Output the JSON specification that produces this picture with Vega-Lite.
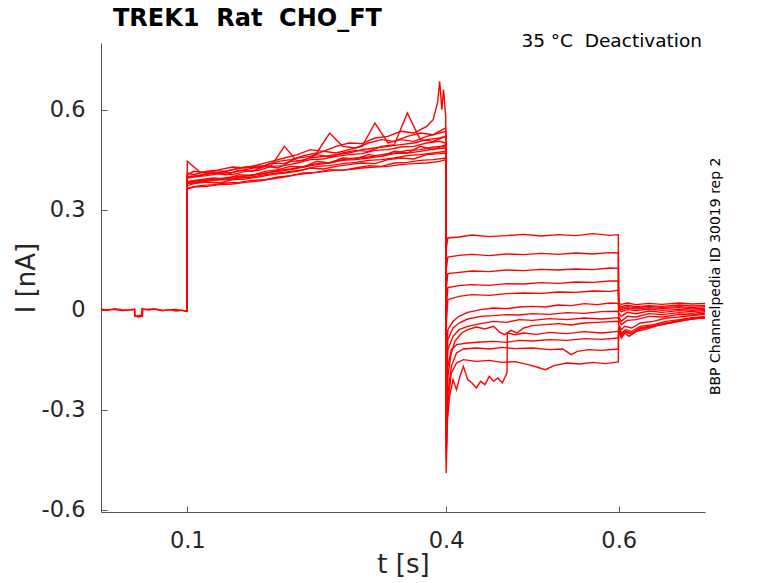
{
  "$schema": "https://vega.github.io/schema/vega-lite/v6.json",
  "width": 604,
  "height": 469,
  "autosize": {"type": "none"},
  "padding": {"left": 101, "top": 43, "right": 73, "bottom": 71},
  "background": "white",
  "config": {"view": {"stroke": null}, "font": "DejaVu Sans"},
  "layer": [
    {
      "data": {
        "values": [
          {"sweep":1,"t":0,"I":0.002},{"sweep":1,"t":0.008,"I":-0.002},{"sweep":1,"t":0.016,"I":0.003},{"sweep":1,"t":0.024,"I":0.0},{"sweep":1,"t":0.032,"I":-0.001},{"sweep":1,"t":0.039,"I":0.002},{"sweep":1,"t":0.0392,"I":-0.018},{"sweep":1,"t":0.043,"I":-0.022},{"sweep":1,"t":0.047,"I":-0.02},{"sweep":1,"t":0.0475,"I":0.003},{"sweep":1,"t":0.055,"I":-0.001},{"sweep":1,"t":0.063,"I":0.002},{"sweep":1,"t":0.071,"I":-0.003},{"sweep":1,"t":0.079,"I":0.0},{"sweep":1,"t":0.087,"I":-0.004},{"sweep":1,"t":0.094,"I":-0.002},{"sweep":1,"t":0.0995,"I":-0.006},
          {"sweep":1,"t":0.1,"I":0.445},{"sweep":1,"t":0.115,"I":0.412},{"sweep":1,"t":0.13,"I":0.418},{"sweep":1,"t":0.145,"I":0.415},{"sweep":1,"t":0.16,"I":0.425},{"sweep":1,"t":0.175,"I":0.43},{"sweep":1,"t":0.19,"I":0.432},{"sweep":1,"t":0.205,"I":0.445},{"sweep":1,"t":0.22,"I":0.45},{"sweep":1,"t":0.235,"I":0.462},{"sweep":1,"t":0.25,"I":0.47},{"sweep":1,"t":0.265,"I":0.53},{"sweep":1,"t":0.28,"I":0.49},{"sweep":1,"t":0.295,"I":0.485},{"sweep":1,"t":0.31,"I":0.5},{"sweep":1,"t":0.325,"I":0.51},{"sweep":1,"t":0.34,"I":0.505},{"sweep":1,"t":0.355,"I":0.52},{"sweep":1,"t":0.37,"I":0.53},{"sweep":1,"t":0.385,"I":0.525},{"sweep":1,"t":0.3995,"I":0.545},
          {"sweep":1,"t":0.4,"I":0.18},{"sweep":1,"t":0.402,"I":0.215},{"sweep":1,"t":0.415,"I":0.218},{"sweep":1,"t":0.43,"I":0.224},{"sweep":1,"t":0.45,"I":0.219},{"sweep":1,"t":0.47,"I":0.222},{"sweep":1,"t":0.49,"I":0.226},{"sweep":1,"t":0.51,"I":0.221},{"sweep":1,"t":0.53,"I":0.225},{"sweep":1,"t":0.55,"I":0.222},{"sweep":1,"t":0.57,"I":0.228},{"sweep":1,"t":0.59,"I":0.223},{"sweep":1,"t":0.5995,"I":0.225},
          {"sweep":1,"t":0.6,"I":0.02},{"sweep":1,"t":0.603,"I":0.016},{"sweep":1,"t":0.61,"I":0.02},{"sweep":1,"t":0.62,"I":0.015},{"sweep":1,"t":0.635,"I":0.019},{"sweep":1,"t":0.65,"I":0.016},{"sweep":1,"t":0.67,"I":0.02},{"sweep":1,"t":0.685,"I":0.017},{"sweep":1,"t":0.7,"I":0.019},

          {"sweep":2,"t":0,"I":-0.002},{"sweep":2,"t":0.012,"I":0.001},{"sweep":2,"t":0.025,"I":-0.003},{"sweep":2,"t":0.039,"I":0.0},{"sweep":2,"t":0.0395,"I":-0.02},{"sweep":2,"t":0.045,"I":-0.017},{"sweep":2,"t":0.048,"I":-0.021},{"sweep":2,"t":0.0485,"I":0.0},{"sweep":2,"t":0.06,"I":0.002},{"sweep":2,"t":0.072,"I":-0.002},{"sweep":2,"t":0.085,"I":0.001},{"sweep":2,"t":0.0995,"I":-0.004},
          {"sweep":2,"t":0.1,"I":0.362},{"sweep":2,"t":0.1075,"I":0.368},{"sweep":2,"t":0.1225,"I":0.37},{"sweep":2,"t":0.1375,"I":0.375},{"sweep":2,"t":0.1525,"I":0.377},{"sweep":2,"t":0.1675,"I":0.382},{"sweep":2,"t":0.1825,"I":0.386},{"sweep":2,"t":0.1975,"I":0.392},{"sweep":2,"t":0.2125,"I":0.398},{"sweep":2,"t":0.2275,"I":0.405},{"sweep":2,"t":0.2425,"I":0.41},{"sweep":2,"t":0.2575,"I":0.414},{"sweep":2,"t":0.2725,"I":0.418},{"sweep":2,"t":0.2875,"I":0.42},{"sweep":2,"t":0.3025,"I":0.425},{"sweep":2,"t":0.3175,"I":0.428},{"sweep":2,"t":0.3325,"I":0.43},{"sweep":2,"t":0.3475,"I":0.435},{"sweep":2,"t":0.3625,"I":0.438},{"sweep":2,"t":0.3775,"I":0.44},{"sweep":2,"t":0.3925,"I":0.445},{"sweep":2,"t":0.3995,"I":0.45},
          {"sweep":2,"t":0.4,"I":0.12},{"sweep":2,"t":0.402,"I":0.158},{"sweep":2,"t":0.415,"I":0.163},{"sweep":2,"t":0.43,"I":0.166},{"sweep":2,"t":0.45,"I":0.162},{"sweep":2,"t":0.47,"I":0.167},{"sweep":2,"t":0.49,"I":0.165},{"sweep":2,"t":0.51,"I":0.169},{"sweep":2,"t":0.53,"I":0.166},{"sweep":2,"t":0.55,"I":0.17},{"sweep":2,"t":0.57,"I":0.167},{"sweep":2,"t":0.59,"I":0.171},{"sweep":2,"t":0.5995,"I":0.17},
          {"sweep":2,"t":0.6,"I":0.014},{"sweep":2,"t":0.603,"I":0.01},{"sweep":2,"t":0.61,"I":0.013},{"sweep":2,"t":0.62,"I":0.009},{"sweep":2,"t":0.635,"I":0.012},{"sweep":2,"t":0.65,"I":0.01},{"sweep":2,"t":0.67,"I":0.014},{"sweep":2,"t":0.685,"I":0.011},{"sweep":2,"t":0.7,"I":0.013},

          {"sweep":3,"t":0.0995,"I":-0.003},
          {"sweep":3,"t":0.1,"I":0.4},{"sweep":3,"t":0.115,"I":0.402},{"sweep":3,"t":0.13,"I":0.41},{"sweep":3,"t":0.145,"I":0.405},{"sweep":3,"t":0.16,"I":0.418},{"sweep":3,"t":0.175,"I":0.415},{"sweep":3,"t":0.19,"I":0.43},{"sweep":3,"t":0.205,"I":0.425},{"sweep":3,"t":0.22,"I":0.445},{"sweep":3,"t":0.235,"I":0.448},{"sweep":3,"t":0.25,"I":0.465},{"sweep":3,"t":0.265,"I":0.458},{"sweep":3,"t":0.28,"I":0.47},{"sweep":3,"t":0.295,"I":0.478},{"sweep":3,"t":0.31,"I":0.475},{"sweep":3,"t":0.325,"I":0.49},{"sweep":3,"t":0.34,"I":0.495},{"sweep":3,"t":0.355,"I":0.59},{"sweep":3,"t":0.37,"I":0.51},{"sweep":3,"t":0.385,"I":0.505},{"sweep":3,"t":0.3995,"I":0.52},
          {"sweep":3,"t":0.4,"I":0.06},{"sweep":3,"t":0.402,"I":0.108},{"sweep":3,"t":0.415,"I":0.112},{"sweep":3,"t":0.43,"I":0.116},{"sweep":3,"t":0.45,"I":0.114},{"sweep":3,"t":0.47,"I":0.119},{"sweep":3,"t":0.49,"I":0.117},{"sweep":3,"t":0.51,"I":0.121},{"sweep":3,"t":0.53,"I":0.119},{"sweep":3,"t":0.55,"I":0.122},{"sweep":3,"t":0.57,"I":0.12},{"sweep":3,"t":0.59,"I":0.125},{"sweep":3,"t":0.5995,"I":0.124},
          {"sweep":3,"t":0.6,"I":0.01},{"sweep":3,"t":0.603,"I":0.005},{"sweep":3,"t":0.61,"I":0.009},{"sweep":3,"t":0.62,"I":0.006},{"sweep":3,"t":0.635,"I":0.01},{"sweep":3,"t":0.65,"I":0.007},{"sweep":3,"t":0.67,"I":0.009},{"sweep":3,"t":0.685,"I":0.006},{"sweep":3,"t":0.7,"I":0.009},

          {"sweep":4,"t":0.0995,"I":-0.005},
          {"sweep":4,"t":0.1,"I":0.372},{"sweep":4,"t":0.1075,"I":0.378},{"sweep":4,"t":0.1225,"I":0.383},{"sweep":4,"t":0.1375,"I":0.38},{"sweep":4,"t":0.1525,"I":0.39},{"sweep":4,"t":0.1675,"I":0.392},{"sweep":4,"t":0.1825,"I":0.398},{"sweep":4,"t":0.1975,"I":0.405},{"sweep":4,"t":0.2125,"I":0.41},{"sweep":4,"t":0.2275,"I":0.415},{"sweep":4,"t":0.2425,"I":0.425},{"sweep":4,"t":0.2575,"I":0.422},{"sweep":4,"t":0.2725,"I":0.43},{"sweep":4,"t":0.2875,"I":0.435},{"sweep":4,"t":0.3025,"I":0.44},{"sweep":4,"t":0.3175,"I":0.438},{"sweep":4,"t":0.3325,"I":0.45},{"sweep":4,"t":0.3475,"I":0.455},{"sweep":4,"t":0.3625,"I":0.452},{"sweep":4,"t":0.3775,"I":0.465},{"sweep":4,"t":0.3925,"I":0.468},{"sweep":4,"t":0.3995,"I":0.47},
          {"sweep":4,"t":0.4,"I":0.0},{"sweep":4,"t":0.402,"I":0.066},{"sweep":4,"t":0.415,"I":0.072},{"sweep":4,"t":0.43,"I":0.075},{"sweep":4,"t":0.45,"I":0.073},{"sweep":4,"t":0.47,"I":0.078},{"sweep":4,"t":0.49,"I":0.077},{"sweep":4,"t":0.51,"I":0.081},{"sweep":4,"t":0.53,"I":0.079},{"sweep":4,"t":0.55,"I":0.083},{"sweep":4,"t":0.57,"I":0.082},{"sweep":4,"t":0.59,"I":0.086},{"sweep":4,"t":0.5995,"I":0.086},
          {"sweep":4,"t":0.6,"I":0.006},{"sweep":4,"t":0.603,"I":0.0},{"sweep":4,"t":0.61,"I":0.005},{"sweep":4,"t":0.62,"I":0.002},{"sweep":4,"t":0.635,"I":0.006},{"sweep":4,"t":0.65,"I":0.003},{"sweep":4,"t":0.67,"I":0.006},{"sweep":4,"t":0.685,"I":0.002},{"sweep":4,"t":0.7,"I":0.005},

          {"sweep":5,"t":0.0995,"I":-0.004},
          {"sweep":5,"t":0.1,"I":0.385},{"sweep":5,"t":0.115,"I":0.39},{"sweep":5,"t":0.13,"I":0.395},{"sweep":5,"t":0.145,"I":0.392},{"sweep":5,"t":0.16,"I":0.405},{"sweep":5,"t":0.175,"I":0.402},{"sweep":5,"t":0.19,"I":0.415},{"sweep":5,"t":0.205,"I":0.42},{"sweep":5,"t":0.22,"I":0.43},{"sweep":5,"t":0.235,"I":0.428},{"sweep":5,"t":0.25,"I":0.445},{"sweep":5,"t":0.265,"I":0.44},{"sweep":5,"t":0.28,"I":0.455},{"sweep":5,"t":0.295,"I":0.452},{"sweep":5,"t":0.31,"I":0.465},{"sweep":5,"t":0.325,"I":0.46},{"sweep":5,"t":0.34,"I":0.475},{"sweep":5,"t":0.355,"I":0.47},{"sweep":5,"t":0.37,"I":0.49},{"sweep":5,"t":0.385,"I":0.48},{"sweep":5,"t":0.3995,"I":0.495},
          {"sweep":5,"t":0.4,"I":-0.05},{"sweep":5,"t":0.402,"I":0.03},{"sweep":5,"t":0.415,"I":0.04},{"sweep":5,"t":0.43,"I":0.045},{"sweep":5,"t":0.45,"I":0.043},{"sweep":5,"t":0.47,"I":0.048},{"sweep":5,"t":0.49,"I":0.05},{"sweep":5,"t":0.51,"I":0.049},{"sweep":5,"t":0.53,"I":0.053},{"sweep":5,"t":0.55,"I":0.052},{"sweep":5,"t":0.57,"I":0.056},{"sweep":5,"t":0.59,"I":0.055},{"sweep":5,"t":0.5995,"I":0.058},
          {"sweep":5,"t":0.6,"I":0.002},{"sweep":5,"t":0.603,"I":-0.006},{"sweep":5,"t":0.61,"I":0.0},{"sweep":5,"t":0.62,"I":-0.003},{"sweep":5,"t":0.635,"I":0.002},{"sweep":5,"t":0.65,"I":-0.002},{"sweep":5,"t":0.67,"I":0.001},{"sweep":5,"t":0.685,"I":-0.002},{"sweep":5,"t":0.7,"I":0.001},

          {"sweep":6,"t":0.0995,"I":-0.002},
          {"sweep":6,"t":0.1,"I":0.41},{"sweep":6,"t":0.1075,"I":0.405},{"sweep":6,"t":0.1225,"I":0.415},{"sweep":6,"t":0.1375,"I":0.412},{"sweep":6,"t":0.1525,"I":0.42},{"sweep":6,"t":0.1675,"I":0.428},{"sweep":6,"t":0.1825,"I":0.425},{"sweep":6,"t":0.1975,"I":0.44},{"sweep":6,"t":0.2125,"I":0.438},{"sweep":6,"t":0.2275,"I":0.455},{"sweep":6,"t":0.2425,"I":0.46},{"sweep":6,"t":0.2575,"I":0.475},{"sweep":6,"t":0.2725,"I":0.47},{"sweep":6,"t":0.2875,"I":0.48},{"sweep":6,"t":0.3025,"I":0.49},{"sweep":6,"t":0.3175,"I":0.56},{"sweep":6,"t":0.3325,"I":0.5},{"sweep":6,"t":0.3475,"I":0.51},{"sweep":6,"t":0.3625,"I":0.505},{"sweep":6,"t":0.3775,"I":0.52},{"sweep":6,"t":0.3925,"I":0.53},{"sweep":6,"t":0.3995,"I":0.535},
          {"sweep":6,"t":0.4,"I":-0.15},{"sweep":6,"t":0.402,"I":-0.06},{"sweep":6,"t":0.408,"I":-0.035},{"sweep":6,"t":0.415,"I":-0.02},{"sweep":6,"t":0.425,"I":-0.008},{"sweep":6,"t":0.44,"I":0.0},{"sweep":6,"t":0.455,"I":0.005},{"sweep":6,"t":0.47,"I":0.003},{"sweep":6,"t":0.485,"I":0.008},{"sweep":6,"t":0.5,"I":0.01},{"sweep":6,"t":0.515,"I":0.008},{"sweep":6,"t":0.53,"I":0.014},{"sweep":6,"t":0.545,"I":0.012},{"sweep":6,"t":0.56,"I":0.018},{"sweep":6,"t":0.575,"I":0.015},{"sweep":6,"t":0.59,"I":0.02},{"sweep":6,"t":0.5995,"I":0.019},
          {"sweep":6,"t":0.6,"I":-0.01},{"sweep":6,"t":0.603,"I":-0.02},{"sweep":6,"t":0.61,"I":-0.008},{"sweep":6,"t":0.62,"I":-0.012},{"sweep":6,"t":0.635,"I":-0.004},{"sweep":6,"t":0.65,"I":-0.008},{"sweep":6,"t":0.67,"I":-0.003},{"sweep":6,"t":0.685,"I":-0.006},{"sweep":6,"t":0.7,"I":-0.002},

          {"sweep":7,"t":0.0995,"I":-0.005},
          {"sweep":7,"t":0.1,"I":0.365},{"sweep":7,"t":0.115,"I":0.372},{"sweep":7,"t":0.13,"I":0.375},{"sweep":7,"t":0.145,"I":0.38},{"sweep":7,"t":0.16,"I":0.382},{"sweep":7,"t":0.175,"I":0.388},{"sweep":7,"t":0.19,"I":0.39},{"sweep":7,"t":0.205,"I":0.398},{"sweep":7,"t":0.22,"I":0.402},{"sweep":7,"t":0.235,"I":0.41},{"sweep":7,"t":0.25,"I":0.412},{"sweep":7,"t":0.265,"I":0.42},{"sweep":7,"t":0.28,"I":0.418},{"sweep":7,"t":0.295,"I":0.425},{"sweep":7,"t":0.31,"I":0.432},{"sweep":7,"t":0.325,"I":0.43},{"sweep":7,"t":0.34,"I":0.44},{"sweep":7,"t":0.355,"I":0.442},{"sweep":7,"t":0.37,"I":0.448},{"sweep":7,"t":0.385,"I":0.45},{"sweep":7,"t":0.3995,"I":0.455},
          {"sweep":7,"t":0.4,"I":-0.22},{"sweep":7,"t":0.402,"I":-0.09},{"sweep":7,"t":0.408,"I":-0.055},{"sweep":7,"t":0.415,"I":-0.04},{"sweep":7,"t":0.425,"I":-0.028},{"sweep":7,"t":0.44,"I":-0.02},{"sweep":7,"t":0.455,"I":-0.018},{"sweep":7,"t":0.47,"I":-0.015},{"sweep":7,"t":0.485,"I":-0.016},{"sweep":7,"t":0.5,"I":-0.012},{"sweep":7,"t":0.52,"I":-0.014},{"sweep":7,"t":0.54,"I":-0.009},{"sweep":7,"t":0.56,"I":-0.011},{"sweep":7,"t":0.58,"I":-0.006},{"sweep":7,"t":0.5995,"I":-0.005},
          {"sweep":7,"t":0.6,"I":-0.02},{"sweep":7,"t":0.603,"I":-0.035},{"sweep":7,"t":0.61,"I":-0.02},{"sweep":7,"t":0.62,"I":-0.022},{"sweep":7,"t":0.635,"I":-0.012},{"sweep":7,"t":0.65,"I":-0.015},{"sweep":7,"t":0.67,"I":-0.009},{"sweep":7,"t":0.685,"I":-0.011},{"sweep":7,"t":0.7,"I":-0.006},

          {"sweep":8,"t":0.0995,"I":-0.003},
          {"sweep":8,"t":0.1,"I":0.395},{"sweep":8,"t":0.1075,"I":0.398},{"sweep":8,"t":0.1225,"I":0.402},{"sweep":8,"t":0.1375,"I":0.408},{"sweep":8,"t":0.1525,"I":0.405},{"sweep":8,"t":0.1675,"I":0.415},{"sweep":8,"t":0.1825,"I":0.418},{"sweep":8,"t":0.1975,"I":0.43},{"sweep":8,"t":0.2125,"I":0.432},{"sweep":8,"t":0.2275,"I":0.44},{"sweep":8,"t":0.2425,"I":0.45},{"sweep":8,"t":0.2575,"I":0.452},{"sweep":8,"t":0.2725,"I":0.46},{"sweep":8,"t":0.2875,"I":0.465},{"sweep":8,"t":0.3025,"I":0.468},{"sweep":8,"t":0.3175,"I":0.478},{"sweep":8,"t":0.3325,"I":0.48},{"sweep":8,"t":0.3475,"I":0.488},{"sweep":8,"t":0.3625,"I":0.49},{"sweep":8,"t":0.3775,"I":0.5},{"sweep":8,"t":0.3925,"I":0.505},{"sweep":8,"t":0.3995,"I":0.5},
          {"sweep":8,"t":0.4,"I":-0.3},{"sweep":8,"t":0.402,"I":-0.12},{"sweep":8,"t":0.408,"I":-0.08},{"sweep":8,"t":0.415,"I":-0.06},{"sweep":8,"t":0.425,"I":-0.05},{"sweep":8,"t":0.44,"I":-0.042},{"sweep":8,"t":0.455,"I":-0.035},{"sweep":8,"t":0.47,"I":-0.038},{"sweep":8,"t":0.485,"I":-0.03},{"sweep":8,"t":0.5,"I":-0.032},{"sweep":8,"t":0.52,"I":-0.027},{"sweep":8,"t":0.54,"I":-0.03},{"sweep":8,"t":0.56,"I":-0.025},{"sweep":8,"t":0.58,"I":-0.028},{"sweep":8,"t":0.5995,"I":-0.024},
          {"sweep":8,"t":0.6,"I":-0.03},{"sweep":8,"t":0.603,"I":-0.045},{"sweep":8,"t":0.61,"I":-0.032},{"sweep":8,"t":0.62,"I":-0.03},{"sweep":8,"t":0.635,"I":-0.02},{"sweep":8,"t":0.65,"I":-0.022},{"sweep":8,"t":0.67,"I":-0.014},{"sweep":8,"t":0.685,"I":-0.016},{"sweep":8,"t":0.7,"I":-0.01},

          {"sweep":9,"t":0.0995,"I":-0.006},
          {"sweep":9,"t":0.1,"I":0.378},{"sweep":9,"t":0.115,"I":0.382},{"sweep":9,"t":0.13,"I":0.388},{"sweep":9,"t":0.145,"I":0.39},{"sweep":9,"t":0.16,"I":0.395},{"sweep":9,"t":0.175,"I":0.398},{"sweep":9,"t":0.19,"I":0.405},{"sweep":9,"t":0.205,"I":0.41},{"sweep":9,"t":0.22,"I":0.415},{"sweep":9,"t":0.235,"I":0.42},{"sweep":9,"t":0.25,"I":0.43},{"sweep":9,"t":0.265,"I":0.432},{"sweep":9,"t":0.28,"I":0.438},{"sweep":9,"t":0.295,"I":0.442},{"sweep":9,"t":0.31,"I":0.448},{"sweep":9,"t":0.325,"I":0.45},{"sweep":9,"t":0.34,"I":0.455},{"sweep":9,"t":0.355,"I":0.462},{"sweep":9,"t":0.37,"I":0.465},{"sweep":9,"t":0.385,"I":0.47},{"sweep":9,"t":0.3995,"I":0.475},
          {"sweep":9,"t":0.4,"I":-0.38},{"sweep":9,"t":0.402,"I":-0.2},{"sweep":9,"t":0.406,"I":-0.13},{"sweep":9,"t":0.41,"I":-0.095},{"sweep":9,"t":0.418,"I":-0.07},{"sweep":9,"t":0.425,"I":-0.06},{"sweep":9,"t":0.435,"I":-0.052},{"sweep":9,"t":0.445,"I":-0.058},{"sweep":9,"t":0.455,"I":-0.05},{"sweep":9,"t":0.462,"I":-0.068},{"sweep":9,"t":0.468,"I":-0.075},{"sweep":9,"t":0.475,"I":-0.062},{"sweep":9,"t":0.482,"I":-0.07},{"sweep":9,"t":0.49,"I":-0.055},{"sweep":9,"t":0.5,"I":-0.048},{"sweep":9,"t":0.515,"I":-0.045},{"sweep":9,"t":0.53,"I":-0.042},{"sweep":9,"t":0.545,"I":-0.046},{"sweep":9,"t":0.56,"I":-0.04},{"sweep":9,"t":0.575,"I":-0.038},{"sweep":9,"t":0.59,"I":-0.036},{"sweep":9,"t":0.5995,"I":-0.035},
          {"sweep":9,"t":0.6,"I":-0.045},{"sweep":9,"t":0.603,"I":-0.06},{"sweep":9,"t":0.607,"I":-0.05},{"sweep":9,"t":0.615,"I":-0.055},{"sweep":9,"t":0.625,"I":-0.04},{"sweep":9,"t":0.64,"I":-0.035},{"sweep":9,"t":0.655,"I":-0.025},{"sweep":9,"t":0.67,"I":-0.022},{"sweep":9,"t":0.685,"I":-0.018},{"sweep":9,"t":0.7,"I":-0.014},

          {"sweep":10,"t":0.0995,"I":-0.004},
          {"sweep":10,"t":0.1,"I":0.405},{"sweep":10,"t":0.1075,"I":0.415},{"sweep":10,"t":0.1225,"I":0.41},{"sweep":10,"t":0.1375,"I":0.42},{"sweep":10,"t":0.1525,"I":0.428},{"sweep":10,"t":0.1675,"I":0.425},{"sweep":10,"t":0.1825,"I":0.435},{"sweep":10,"t":0.1975,"I":0.445},{"sweep":10,"t":0.2125,"I":0.455},{"sweep":10,"t":0.2275,"I":0.465},{"sweep":10,"t":0.2425,"I":0.48},{"sweep":10,"t":0.2575,"I":0.475},{"sweep":10,"t":0.2725,"I":0.49},{"sweep":10,"t":0.2875,"I":0.5},{"sweep":10,"t":0.3025,"I":0.498},{"sweep":10,"t":0.3175,"I":0.515},{"sweep":10,"t":0.3325,"I":0.52},{"sweep":10,"t":0.3475,"I":0.535},{"sweep":10,"t":0.3625,"I":0.53},{"sweep":10,"t":0.3775,"I":0.55},{"sweep":10,"t":0.385,"I":0.57},{"sweep":10,"t":0.39,"I":0.62},{"sweep":10,"t":0.3925,"I":0.685},{"sweep":10,"t":0.395,"I":0.6},{"sweep":10,"t":0.397,"I":0.66},{"sweep":10,"t":0.3995,"I":0.58},
          {"sweep":10,"t":0.4,"I":-0.33},{"sweep":10,"t":0.402,"I":-0.17},{"sweep":10,"t":0.406,"I":-0.12},{"sweep":10,"t":0.412,"I":-0.105},{"sweep":10,"t":0.425,"I":-0.1},{"sweep":10,"t":0.44,"I":-0.097},{"sweep":10,"t":0.455,"I":-0.095},{"sweep":10,"t":0.47,"I":-0.098},{"sweep":10,"t":0.485,"I":-0.092},{"sweep":10,"t":0.5,"I":-0.094},{"sweep":10,"t":0.52,"I":-0.09},{"sweep":10,"t":0.54,"I":-0.092},{"sweep":10,"t":0.56,"I":-0.087},{"sweep":10,"t":0.58,"I":-0.089},{"sweep":10,"t":0.5995,"I":-0.085},
          {"sweep":10,"t":0.6,"I":-0.05},{"sweep":10,"t":0.603,"I":-0.07},{"sweep":10,"t":0.608,"I":-0.06},{"sweep":10,"t":0.615,"I":-0.065},{"sweep":10,"t":0.625,"I":-0.05},{"sweep":10,"t":0.64,"I":-0.045},{"sweep":10,"t":0.655,"I":-0.035},{"sweep":10,"t":0.67,"I":-0.03},{"sweep":10,"t":0.685,"I":-0.024},{"sweep":10,"t":0.7,"I":-0.02},

          {"sweep":11,"t":0.0995,"I":-0.005},
          {"sweep":11,"t":0.1,"I":0.38},{"sweep":11,"t":0.115,"I":0.385},{"sweep":11,"t":0.13,"I":0.392},{"sweep":11,"t":0.145,"I":0.39},{"sweep":11,"t":0.16,"I":0.398},{"sweep":11,"t":0.175,"I":0.403},{"sweep":11,"t":0.19,"I":0.41},{"sweep":11,"t":0.205,"I":0.415},{"sweep":11,"t":0.22,"I":0.42},{"sweep":11,"t":0.235,"I":0.428},{"sweep":11,"t":0.25,"I":0.435},{"sweep":11,"t":0.265,"I":0.44},{"sweep":11,"t":0.28,"I":0.448},{"sweep":11,"t":0.295,"I":0.45},{"sweep":11,"t":0.31,"I":0.455},{"sweep":11,"t":0.325,"I":0.46},{"sweep":11,"t":0.34,"I":0.468},{"sweep":11,"t":0.355,"I":0.47},{"sweep":11,"t":0.37,"I":0.475},{"sweep":11,"t":0.385,"I":0.482},{"sweep":11,"t":0.3995,"I":0.485},
          {"sweep":11,"t":0.4,"I":-0.42},{"sweep":11,"t":0.402,"I":-0.25},{"sweep":11,"t":0.406,"I":-0.17},{"sweep":11,"t":0.412,"I":-0.13},{"sweep":11,"t":0.42,"I":-0.118},{"sweep":11,"t":0.435,"I":-0.115},{"sweep":11,"t":0.45,"I":-0.118},{"sweep":11,"t":0.465,"I":-0.113},{"sweep":11,"t":0.48,"I":-0.117},{"sweep":11,"t":0.5,"I":-0.115},{"sweep":11,"t":0.52,"I":-0.12},{"sweep":11,"t":0.535,"I":-0.118},{"sweep":11,"t":0.545,"I":-0.135},{"sweep":11,"t":0.552,"I":-0.125},{"sweep":11,"t":0.565,"I":-0.12},{"sweep":11,"t":0.58,"I":-0.122},{"sweep":11,"t":0.5995,"I":-0.118},
          {"sweep":11,"t":0.6,"I":-0.055},{"sweep":11,"t":0.603,"I":-0.075},{"sweep":11,"t":0.608,"I":-0.065},{"sweep":11,"t":0.615,"I":-0.07},{"sweep":11,"t":0.625,"I":-0.055},{"sweep":11,"t":0.64,"I":-0.048},{"sweep":11,"t":0.655,"I":-0.04},{"sweep":11,"t":0.67,"I":-0.032},{"sweep":11,"t":0.685,"I":-0.026},{"sweep":11,"t":0.7,"I":-0.022},

          {"sweep":12,"t":0.0995,"I":-0.003},
          {"sweep":12,"t":0.1,"I":0.398},{"sweep":12,"t":0.1075,"I":0.4},{"sweep":12,"t":0.1225,"I":0.408},{"sweep":12,"t":0.1375,"I":0.41},{"sweep":12,"t":0.1525,"I":0.412},{"sweep":12,"t":0.1675,"I":0.42},{"sweep":12,"t":0.1825,"I":0.428},{"sweep":12,"t":0.1975,"I":0.432},{"sweep":12,"t":0.2125,"I":0.49},{"sweep":12,"t":0.2275,"I":0.445},{"sweep":12,"t":0.2425,"I":0.455},{"sweep":12,"t":0.2575,"I":0.46},{"sweep":12,"t":0.2725,"I":0.465},{"sweep":12,"t":0.2875,"I":0.47},{"sweep":12,"t":0.3025,"I":0.48},{"sweep":12,"t":0.3175,"I":0.485},{"sweep":12,"t":0.3325,"I":0.49},{"sweep":12,"t":0.3475,"I":0.495},{"sweep":12,"t":0.3625,"I":0.5},{"sweep":12,"t":0.3775,"I":0.51},{"sweep":12,"t":0.3925,"I":0.515},{"sweep":12,"t":0.3995,"I":0.52},
          {"sweep":12,"t":0.4,"I":-0.45},{"sweep":12,"t":0.402,"I":-0.28},{"sweep":12,"t":0.406,"I":-0.19},{"sweep":12,"t":0.412,"I":-0.16},{"sweep":12,"t":0.42,"I":-0.15},{"sweep":12,"t":0.435,"I":-0.155},{"sweep":12,"t":0.45,"I":-0.152},{"sweep":12,"t":0.465,"I":-0.158},{"sweep":12,"t":0.48,"I":-0.156},{"sweep":12,"t":0.495,"I":-0.165},{"sweep":12,"t":0.505,"I":-0.172},{"sweep":12,"t":0.515,"I":-0.18},{"sweep":12,"t":0.525,"I":-0.168},{"sweep":12,"t":0.54,"I":-0.16},{"sweep":12,"t":0.555,"I":-0.163},{"sweep":12,"t":0.57,"I":-0.158},{"sweep":12,"t":0.585,"I":-0.162},{"sweep":12,"t":0.5995,"I":-0.157},
          {"sweep":12,"t":0.6,"I":-0.06},{"sweep":12,"t":0.603,"I":-0.08},{"sweep":12,"t":0.608,"I":-0.068},{"sweep":12,"t":0.615,"I":-0.074},{"sweep":12,"t":0.625,"I":-0.058},{"sweep":12,"t":0.64,"I":-0.05},{"sweep":12,"t":0.655,"I":-0.042},{"sweep":12,"t":0.67,"I":-0.035},{"sweep":12,"t":0.685,"I":-0.028},{"sweep":12,"t":0.7,"I":-0.024},

          {"sweep":13,"t":0.0995,"I":-0.006},
          {"sweep":13,"t":0.1,"I":0.382},{"sweep":13,"t":0.115,"I":0.388},{"sweep":13,"t":0.13,"I":0.39},{"sweep":13,"t":0.145,"I":0.396},{"sweep":13,"t":0.16,"I":0.4},{"sweep":13,"t":0.175,"I":0.405},{"sweep":13,"t":0.19,"I":0.408},{"sweep":13,"t":0.205,"I":0.418},{"sweep":13,"t":0.22,"I":0.422},{"sweep":13,"t":0.235,"I":0.43},{"sweep":13,"t":0.25,"I":0.438},{"sweep":13,"t":0.265,"I":0.442},{"sweep":13,"t":0.28,"I":0.45},{"sweep":13,"t":0.295,"I":0.455},{"sweep":13,"t":0.31,"I":0.458},{"sweep":13,"t":0.325,"I":0.465},{"sweep":13,"t":0.34,"I":0.47},{"sweep":13,"t":0.355,"I":0.478},{"sweep":13,"t":0.37,"I":0.48},{"sweep":13,"t":0.385,"I":0.488},{"sweep":13,"t":0.3995,"I":0.49},
          {"sweep":13,"t":0.4,"I":-0.49},{"sweep":13,"t":0.4015,"I":-0.33},{"sweep":13,"t":0.404,"I":-0.26},{"sweep":13,"t":0.408,"I":-0.21},{"sweep":13,"t":0.412,"I":-0.24},{"sweep":13,"t":0.416,"I":-0.2},{"sweep":13,"t":0.42,"I":-0.17},{"sweep":13,"t":0.425,"I":-0.21},{"sweep":13,"t":0.43,"I":-0.22},{"sweep":13,"t":0.435,"I":-0.235},{"sweep":13,"t":0.44,"I":-0.215},{"sweep":13,"t":0.445,"I":-0.225},{"sweep":13,"t":0.45,"I":-0.2},{"sweep":13,"t":0.455,"I":-0.215},{"sweep":13,"t":0.46,"I":-0.205},{"sweep":13,"t":0.465,"I":-0.22},{"sweep":13,"t":0.4705,"I":-0.19},{"sweep":13,"t":0.471,"I":-0.07},{"sweep":13,"t":0.48,"I":-0.075},{"sweep":13,"t":0.49,"I":-0.07},{"sweep":13,"t":0.505,"I":-0.074},{"sweep":13,"t":0.52,"I":-0.068},{"sweep":13,"t":0.54,"I":-0.072},{"sweep":13,"t":0.56,"I":-0.066},{"sweep":13,"t":0.58,"I":-0.07},{"sweep":13,"t":0.5995,"I":-0.065},
          {"sweep":13,"t":0.6,"I":-0.065},{"sweep":13,"t":0.603,"I":-0.085},{"sweep":13,"t":0.607,"I":-0.07},{"sweep":13,"t":0.612,"I":-0.08},{"sweep":13,"t":0.62,"I":-0.065},{"sweep":13,"t":0.63,"I":-0.06},{"sweep":13,"t":0.645,"I":-0.048},{"sweep":13,"t":0.66,"I":-0.04},{"sweep":13,"t":0.675,"I":-0.032},{"sweep":13,"t":0.69,"I":-0.027},{"sweep":13,"t":0.7,"I":-0.025}
        ]
      },
      "mark": {"type": "line", "color": "#ff0000", "strokeWidth": 1.4, "clip": true},
      "encoding": {
        "x": {
          "field": "t",
          "type": "quantitative",
          "scale": {"domain": [0, 0.7], "nice": false, "zero": false},
          "axis": {
            "title": "t [s]",
            "values": [0.1, 0.4, 0.6],
            "labelExpr": "'' + datum.value",
            "grid": false,
            "tickSize": -6,
            "labelPadding": 23,
            "labelFlush": false,
            "labelOverlap": false,
            "domainColor": "#555555",
            "tickColor": "#555555",
            "labelFont": "DejaVu Sans",
            "labelFontSize": 22.5,
            "labelColor": "#262626",
            "titleFont": "DejaVu Sans",
            "titleFontSize": 26,
            "titleFontWeight": "normal",
            "titleColor": "#262626",
            "titlePadding": 0
          }
        },
        "y": {
          "field": "I",
          "type": "quantitative",
          "scale": {"domain": [-0.607, 0.8], "nice": false, "zero": false},
          "axis": {
            "title": "I [nA]",
            "values": [-0.6, -0.3, 0, 0.3, 0.6],
            "labelExpr": "'' + datum.value",
            "grid": false,
            "tickSize": -6,
            "labelPadding": 22,
            "labelFlush": false,
            "labelOverlap": false,
            "domainColor": "#555555",
            "tickColor": "#555555",
            "labelFont": "DejaVu Sans",
            "labelFontSize": 22.5,
            "labelColor": "#262626",
            "titleFont": "DejaVu Sans",
            "titleFontSize": 26,
            "titleFontWeight": "normal",
            "titleColor": "#262626",
            "titlePadding": 2
          }
        },
        "detail": {"field": "sweep", "type": "nominal"}
      }
    },
    {
      "data": {"values": [{"label": "TREK1\u00a0\u00a0Rat\u00a0\u00a0CHO_FT"}]},
      "mark": {"type": "text", "align": "left", "baseline": "alphabetic", "dx": 12, "dy": -17, "font": "DejaVu Sans", "fontSize": 24, "fontWeight": "bold", "color": "#000000"},
      "encoding": {
        "x": {"datum": 0, "type": "quantitative"},
        "y": {"datum": 0.8, "type": "quantitative"},
        "text": {"field": "label"}
      }
    },
    {
      "data": {"values": [{"label": "35 °C\u00a0\u00a0Deactivation"}]},
      "mark": {"type": "text", "align": "right", "baseline": "alphabetic", "dx": -3, "dy": 4, "font": "DejaVu Sans", "fontSize": 18.5, "color": "#000000"},
      "encoding": {
        "x": {"datum": 0.7, "type": "quantitative"},
        "y": {"datum": 0.8, "type": "quantitative"},
        "text": {"field": "label"}
      }
    },
    {
      "data": {"values": [{"label": "BBP Channelpedia ID 30019 rep 2"}]},
      "mark": {"type": "text", "align": "center", "baseline": "alphabetic", "angle": 270, "dy": 15, "font": "DejaVu Sans", "fontSize": 14, "color": "#000000"},
      "encoding": {
        "x": {"datum": 0.7, "type": "quantitative"},
        "y": {"datum": 0.1, "type": "quantitative"},
        "text": {"field": "label"}
      }
    }
  ]
}
